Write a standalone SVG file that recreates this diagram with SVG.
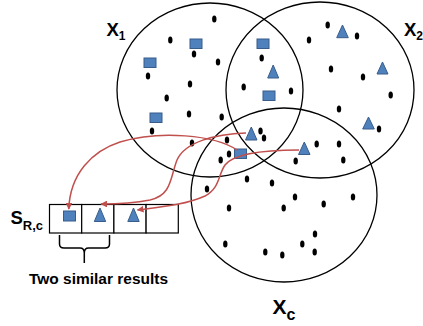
<svg xmlns="http://www.w3.org/2000/svg" width="423" height="326" viewBox="0 0 423 326">
<defs>
<style>
.set{fill:none;stroke:#000;stroke-width:1.3}
.dot{fill:#000}
.sq{fill:#4F81BD;stroke:#385D8A;stroke-width:1}
.tri{fill:#4F81BD;stroke:#385D8A;stroke-width:1}
.lbl{font-family:"Liberation Sans",Arial,sans-serif;font-weight:bold;fill:#000}
.cell{fill:#fff;stroke:#000;stroke-width:1.2}
.arr{fill:none;stroke:#C0504D;stroke-width:1.5}
.brace{fill:none;stroke:#000;stroke-width:1.5}
</style>
<marker id="ah" viewBox="0 0 10 10" refX="9" refY="5" markerWidth="4.5" markerHeight="4.5" orient="auto" markerUnits="strokeWidth">
<path d="M0,0 L10,5 L0,10 z" fill="#C0504D"/>
</marker>
</defs>
<rect width="423" height="326" fill="#fff"/>

<g id="X1">
<ellipse class="set" cx="210" cy="90" rx="93" ry="87"/>
<text class="lbl" x="106.5" y="36" font-size="18.5">X<tspan font-size="12" dy="4">1</tspan></text>
</g>
<g id="X2">
<ellipse class="set" cx="320" cy="90" rx="94" ry="88"/>
<text class="lbl" x="404" y="36" font-size="18.5">X<tspan font-size="12" dy="4">2</tspan></text>
</g>
<g id="Xc">
<ellipse class="set" cx="284" cy="195" rx="93" ry="87"/>
<text class="lbl" x="272.5" y="314" font-size="21">X<tspan font-size="16" dy="6">c</tspan></text>
</g>

<g id="dots">
<ellipse class="dot" cx="214.3" cy="19" rx="2.2" ry="3.5"/>
<ellipse class="dot" cx="170.3" cy="40" rx="2.2" ry="3.5"/>
<ellipse class="dot" cx="194" cy="54" rx="2.2" ry="3.5"/>
<ellipse class="dot" cx="218" cy="62" rx="2.2" ry="3.5"/>
<ellipse class="dot" cx="148" cy="76" rx="2.2" ry="3.5"/>
<ellipse class="dot" cx="190" cy="84" rx="2.2" ry="3.5"/>
<ellipse class="dot" cx="243.7" cy="87" rx="2.2" ry="3.5"/>
<ellipse class="dot" cx="166.7" cy="98" rx="2.2" ry="3.5"/>
<ellipse class="dot" cx="189" cy="114" rx="2.2" ry="3.5"/>
<ellipse class="dot" cx="221.7" cy="117" rx="2.2" ry="3.5"/>
<ellipse class="dot" cx="152" cy="131" rx="2.2" ry="3.5"/>
<ellipse class="dot" cx="260.5" cy="131" rx="2.2" ry="3.5"/>
<ellipse class="dot" cx="264" cy="138" rx="2.2" ry="3.5"/>
<ellipse class="dot" cx="192" cy="143" rx="2.2" ry="3.5"/>
<ellipse class="dot" cx="227" cy="140" rx="2.2" ry="3.5"/>
<ellipse class="dot" cx="229" cy="154" rx="2.2" ry="3.5"/>
<ellipse class="dot" cx="220.7" cy="160" rx="2.2" ry="3.5"/>
<ellipse class="dot" cx="327.7" cy="25" rx="2.2" ry="3.5"/>
<ellipse class="dot" cx="357" cy="36" rx="2.2" ry="3.5"/>
<ellipse class="dot" cx="309" cy="40" rx="2.2" ry="3.5"/>
<ellipse class="dot" cx="261.7" cy="58" rx="2.2" ry="3.5"/>
<ellipse class="dot" cx="331" cy="69" rx="2.2" ry="3.5"/>
<ellipse class="dot" cx="363" cy="77" rx="2.2" ry="3.5"/>
<ellipse class="dot" cx="291" cy="91" rx="2.2" ry="3.5"/>
<ellipse class="dot" cx="390.7" cy="95" rx="2.2" ry="3.5"/>
<ellipse class="dot" cx="339" cy="109" rx="2.2" ry="3.5"/>
<ellipse class="dot" cx="379" cy="129" rx="2.2" ry="3.5"/>
<ellipse class="dot" cx="316.7" cy="144" rx="2.2" ry="3.5"/>
<ellipse class="dot" cx="339" cy="144" rx="2.2" ry="3.5"/>
<ellipse class="dot" cx="343.3" cy="160" rx="2.2" ry="3.5"/>
<ellipse class="dot" cx="295.7" cy="161" rx="2.2" ry="3.5"/>
<ellipse class="dot" cx="247" cy="179" rx="2.2" ry="3.5"/>
<ellipse class="dot" cx="272" cy="183" rx="2.2" ry="3.5"/>
<ellipse class="dot" cx="207" cy="189" rx="2.2" ry="3.5"/>
<ellipse class="dot" cx="295" cy="197" rx="2.2" ry="3.5"/>
<ellipse class="dot" cx="353" cy="197" rx="2.2" ry="3.5"/>
<ellipse class="dot" cx="229" cy="208" rx="2.2" ry="3.5"/>
<ellipse class="dot" cx="283.7" cy="208" rx="2.2" ry="3.5"/>
<ellipse class="dot" cx="323.7" cy="204" rx="2.2" ry="3.5"/>
<ellipse class="dot" cx="315" cy="234" rx="2.2" ry="3.5"/>
<ellipse class="dot" cx="225.3" cy="244" rx="2.2" ry="3.5"/>
<ellipse class="dot" cx="302.3" cy="244" rx="2.2" ry="3.5"/>
<ellipse class="dot" cx="265.3" cy="252" rx="2.2" ry="3.5"/>
<ellipse class="dot" cx="282.3" cy="255" rx="2.2" ry="3.5"/>
<ellipse class="dot" cx="314.7" cy="252" rx="2.2" ry="3.5"/>
</g>

<g id="items">
<rect class="sq" x="190" y="39" width="12" height="9.5"/>
<rect class="sq" x="144" y="58" width="12" height="9.5"/>
<rect class="sq" x="150" y="113" width="12" height="9.5"/>
<rect class="sq" x="257" y="39" width="12" height="9.5"/>
<rect class="sq" x="263" y="91" width="12" height="9.5"/>
<rect class="sq" x="234.5" y="149" width="12" height="9.5"/>
<polygon class="tri" points="251.3,127 245.5,140 257,140"/>
<polygon class="tri" points="342.5,25 336.7,37.7 348.3,37.7"/>
<polygon class="tri" points="273.2,65 267.7,78 278.7,78"/>
<polygon class="tri" points="382.5,62 377,74 388,74"/>
<polygon class="tri" points="368.5,117 362.7,129 374.3,129"/>
<polygon class="tri" points="304.3,142 298.5,154.5 310,154.5"/>
</g>

<g id="S_Rc">
<rect class="cell" x="49.5" y="204.5" width="32.2" height="28.5"/>
<rect class="cell" x="81.7" y="204.5" width="32.2" height="28.5"/>
<rect class="cell" x="113.9" y="204.5" width="32.2" height="28.5"/>
<rect class="cell" x="146.1" y="204.5" width="32.2" height="28.5"/>
<rect class="sq" x="63.5" y="211" width="12" height="10"/>
<polygon class="tri" points="100,208 94.3,221.5 105.7,221.5"/>
<polygon class="tri" points="133.5,208 127.8,221.5 139.2,221.5"/>
<text class="lbl" x="10.5" y="223.5" font-size="18.5">S<tspan font-size="13" dy="6">R,c</tspan></text>
</g>

<g id="brace">
<path class="brace" d="M59.5,235 V244 Q59.5,248 64,248 H80 Q84.3,248 84.3,253 V263 M84.3,253 Q84.3,248 88.6,248 H105 Q109.5,248 109.5,244 V235"/>
<text class="lbl" x="98.5" y="283.5" font-size="15" text-anchor="middle" textLength="139" lengthAdjust="spacingAndGlyphs">Two similar results</text>
</g>

<g id="connectors">
<path class="arr" marker-end="url(#ah)" d="M237,150 C215,135 160,130 120,142 C92,151 70,174 68.8,209"/>
<path class="arr" marker-end="url(#ah)" d="M246,133 C215,134 185,142 177,160 C170,178 172,195 150,200 C135,203 116,204 101,204"/>
<path class="arr" marker-end="url(#ah)" d="M299,150 C270,150 235,152 225,165 C218,175 220,188 205,196 C185,205 160,207 137.5,210"/>
</g>
</svg>
